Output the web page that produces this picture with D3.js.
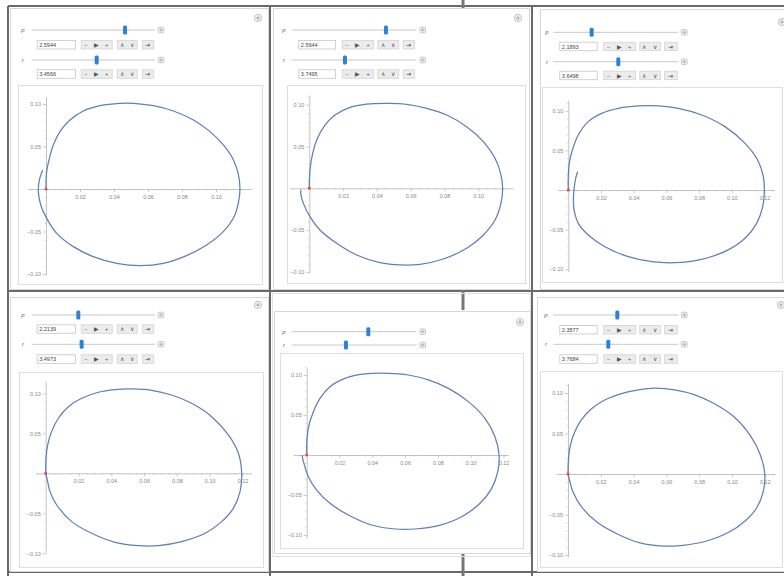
<!DOCTYPE html>
<html><head><meta charset="utf-8">
<script src="https://cdn.jsdelivr.net/npm/d3@7"></script>
<style>
body{margin:0;background:#fff;}
svg{display:block;font-family:"Liberation Sans",Arial,sans-serif;}
</style></head><body>
<svg id="c" width="784" height="576"></svg>
<script>
// ---- orbit traces (x, y) for each of the six panels ----
const orbit1 = [[0,0],[0.0004,0.0204],[0.002,0.0361],[0.0043,0.0518],[0.0082,0.0675],[0.0141,0.0812],[0.022,0.0918],[0.0318,0.098],[0.0435,0.1008],[0.0514,0.1008],[0.0631,0.098],[0.0749,0.0918],[0.0867,0.0812],[0.0965,0.0675],[0.1043,0.0518],[0.1102,0.0345],[0.1131,0.0177],[0.1141,0],[0.1131,-0.0169],[0.1102,-0.0345],[0.1043,-0.0502],[0.0945,-0.0659],[0.0827,-0.0784],[0.069,-0.0875],[0.0553,-0.0902],[0.0416,-0.0875],[0.0278,-0.0796],[0.0161,-0.0678],[0.0063,-0.0522],[0.0004,-0.0345],[-0.0031,-0.0188],[-0.0045,-0.0031],[-0.0039,0.0106],[-0.002,0.0224]];
const orbit2 = [[0,0],[0.0004,0.0219],[0.002,0.0418],[0.0048,0.0598],[0.0093,0.0757],[0.0152,0.0877],[0.0241,0.0969],[0.0339,0.1008],[0.0477,0.1016],[0.0576,0.1004],[0.0695,0.0957],[0.0813,0.0877],[0.0931,0.0737],[0.103,0.0558],[0.1099,0.0359],[0.1132,0.0179],[0.1144,0],[0.1134,-0.018],[0.1099,-0.0379],[0.103,-0.0558],[0.0931,-0.0718],[0.0793,-0.0846],[0.0655,-0.0909],[0.0537,-0.0917],[0.0418,-0.0889],[0.028,-0.0798],[0.0162,-0.0658],[0.0063,-0.0499],[0.0004,-0.0339],[-0.0035,-0.018],[-0.0051,-0.006],[-0.0049,-0.002]];
const orbit3 = [[0,0],[0,0.0168],[0.0006,0.0337],[0.0025,0.0505],[0.0061,0.0694],[0.0122,0.0863],[0.0204,0.0968],[0.0306,0.1031],[0.0428,0.1061],[0.0551,0.1061],[0.0673,0.1031],[0.0816,0.0947],[0.0958,0.08],[0.1081,0.0589],[0.1158,0.0379],[0.1193,0.0168],[0.1199,0],[0.1189,-0.021],[0.1152,-0.0421],[0.1081,-0.061],[0.0969,-0.0766],[0.0816,-0.0875],[0.0653,-0.0918],[0.051,-0.0905],[0.0367,-0.0842],[0.0224,-0.0716],[0.0122,-0.0568],[0.0061,-0.0421],[0.0037,-0.0274],[0.0031,-0.0126],[0.0037,0.0042],[0.0045,0.0147],[0.0057,0.0231]];
const orbit4 = [[0,0],[0.0002,0.0188],[0.0012,0.0354],[0.0036,0.0521],[0.0077,0.0688],[0.0138,0.0833],[0.0219,0.0938],[0.0321,0.1013],[0.0423,0.1046],[0.0524,0.1054],[0.0646,0.1038],[0.0768,0.0979],[0.089,0.0875],[0.1012,0.0708],[0.1114,0.0479],[0.1175,0.025],[0.1195,0],[0.1185,-0.0229],[0.1144,-0.0438],[0.1073,-0.0604],[0.0972,-0.075],[0.0829,-0.0854],[0.0687,-0.0904],[0.0565,-0.0904],[0.0423,-0.0863],[0.028,-0.075],[0.0159,-0.0604],[0.0067,-0.0396],[0.0026,-0.0229],[0.001,-0.0083],[0,0]];
const orbit5 = [[0,0],[0.0002,0.0208],[0.0014,0.0375],[0.0041,0.0542],[0.0081,0.0708],[0.0142,0.0854],[0.0234,0.0958],[0.0356,0.1013],[0.0498,0.1021],[0.062,0.1],[0.0742,0.0938],[0.0864,0.0833],[0.0986,0.0667],[0.1087,0.0458],[0.1148,0.0229],[0.1173,0],[0.1165,-0.0208],[0.1128,-0.0417],[0.1057,-0.0604],[0.0945,-0.0771],[0.0803,-0.0883],[0.066,-0.0925],[0.0539,-0.0925],[0.0396,-0.0875],[0.0254,-0.075],[0.0142,-0.0604],[0.0061,-0.0438],[0.001,-0.0271],[-0.0014,-0.0125],[-0.0025,-0.0042],[-0.0027,0]];
const orbit6 = [[0,0],[0.0003,0.018],[0.0013,0.034],[0.0037,0.05],[0.0078,0.066],[0.014,0.08],[0.022,0.091],[0.032,0.099],[0.043,0.104],[0.053,0.106],[0.065,0.104],[0.077,0.098],[0.089,0.087],[0.101,0.071],[0.111,0.048],[0.117,0.025],[0.12,0],[0.119,-0.022],[0.115,-0.042],[0.108,-0.058],[0.098,-0.072],[0.084,-0.083],[0.07,-0.088],[0.058,-0.089],[0.044,-0.085],[0.03,-0.074],[0.018,-0.06],[0.008,-0.04],[0.003,-0.022],[0.001,-0.008],[0,0]];
const orbits = [orbit1, orbit2, orbit3, orbit4, orbit5, orbit6];

// slider thumb positions (fraction of the track) and the values shown in the fields
const pSlider = [0.757, 0.754, 0.307, 0.378, 0.613, 0.512];
const rSlider = [0.527, 0.426, 0.52, 0.405, 0.434, 0.44];
const pField = ["2.5944", "2.5944", "2.1893", "2.2139", null, "2.3577"];
const rField = ["3.4566", "3.7495", "3.6498", "3.4973", null, "3.7684"];
const sliderNames = ["p", "r"];

// tick values
const xTicksShort = [0.02, 0.04, 0.06, 0.08, 0.10];
const xTicksLong = [0.02, 0.04, 0.06, 0.08, 0.10, 0.12];
const yTicks = [-0.10, -0.05, 0.05, 0.10];
const xTickSets = [xTicksShort, xTicksShort, xTicksLong, xTicksLong, xTicksLong, xTicksLong];

// ---- panel geometry ----
const layout = [
  {frame:[10,8,268,289], lab:23, track:[31.7,155], rows:[30,60], fields:[40,69.3], box:[36.7,75],
   groups:[[80.7,111.7],[116.7,136.7],[141.7,153.3]], icon:[258,18], plot:[18,85,262,284],
   origin:[46,189], sx:1700, sy:850, ax:[-0.0104,0.121], ay:[-0.101,0.1086]},
  {frame:[273,8,529,289], lab:284, track:[291.7,416.7], rows:[30,60], fields:[40,69.3], box:[298.3,335],
   groups:[[341.7,373.3],[377.3,398.3],[402.7,414]], icon:[518,18], plot:[287,85,525,283],
   origin:[309.3,188.3], sx:1690, sy:836, ax:[-0.0114,0.1207], ay:[-0.1017,0.1116]},
  {frame:[540,9,792,289], lab:547, track:[553.3,678.3], rows:[32.3,61.7], fields:[41.7,70.7], box:[559.3,596.7],
   groups:[[603.3,635],[639.3,660],[664,676.7]], icon:[782,22], plot:[542,87,782,282],
   origin:[568.3,190], sx:1635, sy:792, ax:[-0.0065,0.126], ay:[-0.103,0.1136]},
  {frame:[10,297,268,571], lab:23, track:[31.7,155], rows:[315,344.3], fields:[324.3,354.3], box:[36.7,75],
   groups:[[80.7,111.7],[116.7,136.7],[141.7,153.3]], icon:[258,305], plot:[19,372,263,567],
   origin:[45.7,473.3], sx:1640, sy:800, ax:[-0.0061,0.1252], ay:[-0.1,0.1145]},
  {frame:[274,311,530,553], lab:284, track:[291.7,416.7], rows:[331.7,345], fields:null, box:null,
   groups:null, icon:[520,322], plot:[280,353,523,548],
   origin:[306.7,455], sx:1640, sy:800, ax:[-0.0082,0.1229], ay:[-0.104,0.110]},
  {frame:[537,297,792,571], lab:546, track:[553.3,678.3], rows:[315,344.3], fields:[325,354.3], box:[559.3,596.7],
   groups:[[603.3,635],[639.3,660],[664,676.7]], icon:[781,305], plot:[540,371,782,567],
   origin:[568,474], sx:1640, sy:810, ax:[-0.007,0.126], ay:[-0.102,0.112]}
];

const svg = d3.select('#c');

// outer grid of the notebook table
const grid = svg.append('g').attr('stroke', '#6a6a6a').attr('stroke-width', 2);
[[8,6,784,6],[8,6,8,576],[270,6,270,576],[532,6,532,576],[8,291,784,291],[8,572,784,572]]
  .forEach(d => grid.append('line').attr('x1', d[0]).attr('y1', d[1]).attr('x2', d[2]).attr('y2', d[3]));
const marks = svg.append('g').attr('stroke', '#777').attr('stroke-width', 3);
[[463,0,463,8],[463,287,463,310],[463,553,463,576]]
  .forEach(d => marks.append('line').attr('x1', d[0]).attr('y1', d[1]).attr('x2', d[2]).attr('y2', d[3]));
// faint outer frame around the middle lower panel
svg.append('rect').attr('x', 272.5).attr('y', 293.5).attr('width', 258).attr('height', 263)
  .attr('fill', 'none').attr('stroke', '#e2e2e2');

const fmt = d3.format('.2f');

layout.forEach((L, i) => {
  const g = svg.append('g');
  const [fx0, fy0, fx1, fy1] = L.frame;
  g.append('rect').attr('x', fx0 + 0.5).attr('y', fy0 + 0.5).attr('width', fx1 - fx0).attr('height', fy1 - fy0)
    .attr('fill', '#fff').attr('stroke', '#d8d8d8');

  // options icon (top right)
  const ic = g.append('g').attr('transform', `translate(${L.icon[0]},${L.icon[1]})`);
  ic.append('circle').attr('r', 3.6).attr('fill', '#f2f2f2').attr('stroke', '#b5b5b5').attr('stroke-width', 0.8);
  ic.append('path').attr('d', 'M-1.8,0H1.8M0,-1.8V1.8').attr('stroke', '#9a9a9a').attr('stroke-width', 0.8);

  // two sliders
  const vals = [pSlider[i], rSlider[i]];
  const texts = [pField[i], rField[i]];
  const ts = d3.scaleLinear().domain([0, 1]).range(L.track);
  L.rows.forEach((ry, k) => {
    g.append('text').attr('x', L.lab).attr('y', ry + 2).attr('font-size', 6).attr('font-style', 'italic')
      .attr('fill', '#666').attr('text-anchor', 'middle').text(sliderNames[k]);
    g.append('line').attr('x1', L.track[0]).attr('x2', L.track[1]).attr('y1', ry).attr('y2', ry)
      .attr('stroke', '#c8c8c8').attr('stroke-width', 1);
    g.append('rect').attr('x', ts(vals[k]) - 2).attr('y', ry - 4.5).attr('width', 4).attr('height', 9).attr('rx', 1.5)
      .attr('fill', '#2b83d9');
    // expand button at the right of the track
    const bx = L.track[1] + 6;
    g.append('rect').attr('x', bx - 2.8).attr('y', ry - 2.8).attr('width', 5.6).attr('height', 5.6).attr('rx', 1)
      .attr('fill', '#f0f0f0').attr('stroke', '#b8b8b8').attr('stroke-width', 0.7);
    g.append('path').attr('d', `M${bx - 1.6},${ry}H${bx + 1.6}M${bx},${ry - 1.6}V${ry + 1.6}`)
      .attr('stroke', '#999').attr('stroke-width', 0.7);

    // value field and animation controls
    if (L.fields && texts[k] !== null) {
      const fy = L.fields[k];
      g.append('rect').attr('x', L.box[0] + 0.5).attr('y', fy + 0.5).attr('width', L.box[1] - L.box[0]).attr('height', 8.5)
        .attr('fill', '#fff').attr('stroke', '#c6c6c6').attr('stroke-width', 0.8);
      g.append('text').attr('x', L.box[0] + 2.5).attr('y', fy + 7).attr('font-size', 5.5).attr('fill', '#444').text(texts[k]);
      const glyphs = [["\u2013", "\u25B6", "+"], ["\u2227", "\u2228"], ["\u21E5"]];
      L.groups.forEach((gr, gi) => {
        g.append('rect').attr('x', gr[0] + 0.5).attr('y', fy + 0.5).attr('width', gr[1] - gr[0]).attr('height', 8.5)
          .attr('fill', '#ececec').attr('stroke', '#cfcfcf').attr('stroke-width', 0.7);
        const n = glyphs[gi].length, cw = (gr[1] - gr[0]) / n;
        glyphs[gi].forEach((s, si) => {
          g.append('text').attr('x', gr[0] + cw * (si + 0.5)).attr('y', fy + 7).attr('text-anchor', 'middle')
            .attr('font-size', 5.5).attr('fill', '#555').text(s);
        });
      });
    }
  });

  // plot area
  const [px0, py0, px1, py1] = L.plot;
  g.append('rect').attr('x', px0 + 0.5).attr('y', py0 + 0.5).attr('width', px1 - px0).attr('height', py1 - py0)
    .attr('fill', '#fff').attr('stroke', '#dedede');

  const x = d3.scaleLinear().domain(L.ax).range([L.origin[0] + L.ax[0] * L.sx, L.origin[0] + L.ax[1] * L.sx]);
  const y = d3.scaleLinear().domain(L.ay).range([L.origin[1] - L.ay[0] * L.sy, L.origin[1] - L.ay[1] * L.sy]);

  const styleAxis = sel => {
    sel.select('.domain').attr('stroke', '#b4b4b4').attr('stroke-width', 0.8);
    sel.selectAll('.tick line').attr('stroke', '#b4b4b4').attr('stroke-width', 0.7);
    sel.selectAll('.tick text').attr('fill', '#888').attr('font-size', 5.5)
      .attr('font-family', '"Liberation Sans",Arial,sans-serif');
  };

  // minor ticks
  const xMinor = d3.range(Math.ceil(L.ax[0] / 0.005), Math.floor(L.ax[1] / 0.005) + 1).map(k => k * 0.005)
    .filter(v => Math.abs(v) > 1e-9 && Math.abs(v / 0.02 - Math.round(v / 0.02)) > 1e-6);
  const yMinor = d3.range(Math.ceil(L.ay[0] / 0.01), Math.floor(L.ay[1] / 0.01) + 1).map(k => k * 0.01)
    .filter(v => Math.abs(v) > 1e-9 && Math.abs(v / 0.05 - Math.round(v / 0.05)) > 1e-6);
  g.append('g').attr('transform', `translate(0,${L.origin[1]})`)
    .call(d3.axisBottom(x).tickValues(xMinor).tickSize(1.6).tickSizeOuter(0).tickFormat(''))
    .call(sel => { sel.select('.domain').remove(); sel.selectAll('.tick line').attr('stroke', '#c2c2c2').attr('stroke-width', 0.6); });
  g.append('g').attr('transform', `translate(${L.origin[0]},0)`)
    .call(d3.axisLeft(y).tickValues(yMinor).tickSize(1.6).tickSizeOuter(0).tickFormat(''))
    .call(sel => { sel.select('.domain').remove(); sel.selectAll('.tick line').attr('stroke', '#c2c2c2').attr('stroke-width', 0.6); });

  // major axes
  g.append('g').attr('transform', `translate(0,${L.origin[1]})`)
    .call(d3.axisBottom(x).tickValues(xTickSets[i]).tickSize(3).tickSizeOuter(0).tickPadding(3).tickFormat(fmt))
    .call(styleAxis);
  g.append('g').attr('transform', `translate(${L.origin[0]},0)`)
    .call(d3.axisLeft(y).tickValues(yTicks).tickSize(3).tickSizeOuter(0).tickPadding(2).tickFormat(fmt))
    .call(styleAxis);

  // orbit
  const line = d3.line().x(d => x(d[0])).y(d => y(d[1])).curve(d3.curveCatmullRom.alpha(0.5));
  g.append('path').datum(orbits[i]).attr('d', line).attr('fill', 'none')
    .attr('stroke', '#5e81b5').attr('stroke-width', 1.25);

  // starting point
  g.append('rect').attr('x', x(0) - 1.3).attr('y', y(0) - 1.3).attr('width', 2.6).attr('height', 2.6)
    .attr('fill', '#e5493f');
});
</script></body></html>
